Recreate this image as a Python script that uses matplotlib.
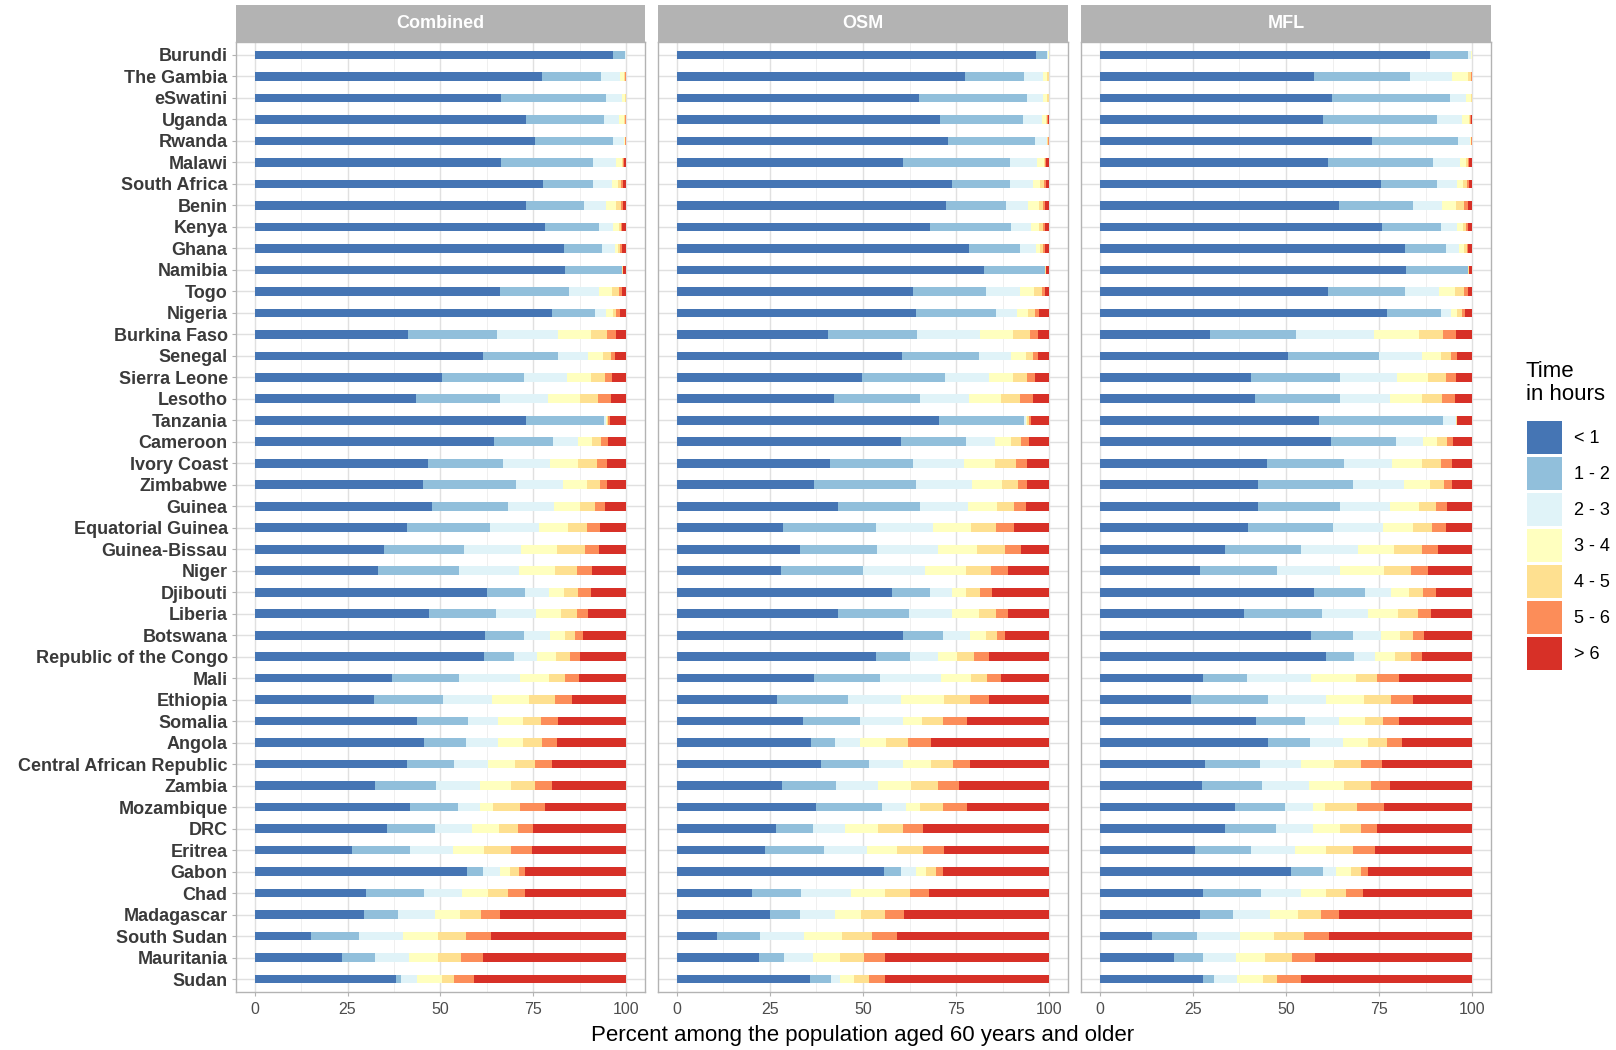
import numpy as np
import matplotlib
matplotlib.use("Agg")
import matplotlib.pyplot as plt
from matplotlib.patches import Patch, Rectangle

plt.rcParams['font.family'] = ['Liberation Sans', 'DejaVu Sans']

countries = [
    "Burundi", "The Gambia", "eSwatini", "Uganda", "Rwanda", "Malawi",
    "South Africa", "Benin", "Kenya", "Ghana", "Namibia", "Togo", "Nigeria",
    "Burkina Faso", "Senegal", "Sierra Leone", "Lesotho", "Tanzania",
    "Cameroon", "Ivory Coast", "Zimbabwe", "Guinea", "Equatorial Guinea",
    "Guinea-Bissau", "Niger", "Djibouti", "Liberia", "Botswana",
    "Republic of the Congo", "Mali", "Ethiopia", "Somalia", "Angola",
    "Central African Republic", "Zambia", "Mozambique", "DRC", "Eritrea",
    "Gabon", "Chad", "Madagascar", "South Sudan", "Mauritania", "Sudan",
]

bands = ["< 1", "1 - 2", "2 - 3", "3 - 4", "4 - 5", "5 - 6", "> 6"]
band_colors = ["#4575b4", "#91bfdb", "#e0f3f8", "#ffffbf",
               "#fee090", "#fc8d59", "#d73027"]

panel_titles = ["Combined", "OSM", "MFL"]
x_ticks = [0, 25, 50, 75, 100]

# Cumulative percent reached at the upper end of each band (< 1 ... 5 - 6);
# the "> 6" band fills the remainder up to 100.
combined_cum = [
    [96.3, 99.6, 99.8, 99.9, 99.95, 100.0],
    [77.3, 93.2, 98.3, 99.4, 99.7, 99.9],
    [66.4, 94.6, 98.7, 99.5, 99.8, 99.9],
    [72.9, 93.9, 98.0, 99.3, 99.7, 99.9],
    [75.4, 96.5, 99.4, 99.6, 99.7, 99.9],
    [66.4, 91.1, 97.2, 98.7, 99.1, 99.4],
    [77.6, 90.9, 96.1, 97.8, 98.6, 99.0],
    [72.9, 88.6, 94.6, 97.2, 98.5, 99.1],
    [78.1, 92.7, 96.5, 98.0, 98.6, 98.9],
    [83.3, 93.5, 96.8, 97.8, 98.3, 98.8],
    [83.5, 98.7, 98.8, 98.9, 99.0, 99.1],
    [66.0, 84.5, 92.5, 96.1, 98.0, 98.8],
    [80.1, 91.6, 94.6, 96.3, 97.3, 98.2],
    [41.2, 65.1, 81.7, 90.5, 94.8, 97.2],
    [61.3, 81.7, 89.8, 93.8, 95.8, 97.0],
    [50.5, 72.5, 84.1, 90.5, 94.2, 96.2],
    [43.5, 66.0, 79.0, 87.4, 92.4, 95.8],
    [72.9, 93.9, 94.5, 94.8, 95.1, 95.5],
    [64.4, 80.2, 87.1, 90.7, 93.3, 95.1],
    [46.7, 66.9, 79.4, 87.1, 92.1, 94.9],
    [45.4, 70.3, 83.0, 89.5, 93.0, 94.8],
    [47.6, 68.2, 80.4, 87.4, 91.6, 94.2],
    [41.1, 63.4, 76.4, 84.4, 89.5, 93.0],
    [34.7, 56.2, 71.6, 81.4, 88.9, 92.7],
    [33.3, 55.0, 71.1, 80.7, 86.7, 90.7],
    [62.4, 72.7, 79.3, 83.2, 86.9, 90.5],
    [47.0, 64.9, 75.7, 82.3, 86.7, 89.8],
    [62.0, 72.5, 79.4, 83.6, 86.2, 88.3],
    [61.7, 69.8, 75.9, 81.0, 84.9, 87.6],
    [37.0, 54.9, 71.3, 79.3, 83.4, 87.2],
    [32.0, 50.8, 63.9, 73.9, 80.9, 85.3],
    [43.8, 57.4, 65.5, 72.2, 77.1, 81.7],
    [45.5, 56.8, 65.4, 72.1, 77.2, 81.4],
    [41.1, 53.6, 62.9, 70.0, 75.5, 79.9],
    [32.5, 48.9, 60.6, 68.9, 75.3, 79.9],
    [41.7, 54.8, 60.6, 64.0, 71.5, 78.2],
    [35.6, 48.6, 58.5, 65.6, 70.8, 75.0],
    [26.3, 41.7, 53.3, 61.8, 69.0, 74.7],
    [57.1, 61.5, 66.0, 68.7, 71.0, 72.8],
    [30.0, 45.5, 55.9, 62.8, 68.1, 72.8],
    [29.4, 38.6, 48.4, 55.2, 61.0, 65.9],
    [15.3, 28.1, 39.8, 49.2, 56.8, 63.6],
    [23.4, 32.4, 41.4, 49.2, 55.5, 61.4],
    [37.9, 39.4, 43.7, 50.4, 53.5, 59.1],
]

osm_cum = [
    [96.3, 99.4, 99.7, 99.8, 99.9, 100.0],
    [77.4, 93.1, 98.4, 99.5, 99.8, 99.9],
    [65.0, 94.1, 98.4, 99.5, 99.8, 99.9],
    [70.6, 92.9, 97.9, 99.2, 99.4, 99.6],
    [72.7, 96.2, 99.3, 99.5, 99.7, 99.9],
    [60.8, 89.4, 96.7, 98.5, 98.9, 99.2],
    [74.0, 89.4, 95.5, 97.6, 98.6, 99.0],
    [72.4, 88.4, 94.4, 97.1, 98.4, 98.9],
    [68.0, 89.7, 95.1, 97.3, 98.2, 98.7],
    [78.5, 92.2, 96.4, 97.6, 98.4, 98.7],
    [82.5, 98.7, 98.8, 98.9, 99.0, 99.1],
    [63.3, 83.1, 92.0, 95.9, 98.0, 98.7],
    [64.3, 85.6, 91.4, 94.3, 96.1, 97.3],
    [40.5, 64.4, 81.5, 90.3, 94.8, 97.0],
    [60.4, 81.1, 89.7, 93.6, 95.6, 97.0],
    [49.6, 71.9, 83.7, 90.2, 93.9, 96.1],
    [42.1, 65.4, 78.5, 86.9, 92.2, 95.5],
    [70.5, 93.2, 93.8, 94.1, 94.5, 95.0],
    [60.1, 77.7, 85.5, 89.7, 92.5, 94.5],
    [41.1, 63.3, 77.0, 85.5, 91.0, 94.1],
    [36.9, 64.3, 79.3, 87.3, 91.6, 94.0],
    [43.3, 65.4, 78.3, 85.9, 90.6, 93.7],
    [28.5, 53.4, 68.8, 79.1, 85.7, 90.4],
    [33.0, 53.7, 70.0, 80.6, 88.1, 92.5],
    [27.9, 49.9, 66.6, 77.7, 84.3, 88.9],
    [57.9, 68.0, 73.9, 77.7, 81.3, 84.7],
    [43.3, 62.4, 74.0, 81.1, 85.6, 88.9],
    [60.7, 71.5, 78.7, 82.9, 85.9, 88.1],
    [53.4, 62.6, 70.0, 75.2, 79.7, 83.7],
    [36.9, 54.5, 70.8, 79.0, 83.2, 86.9],
    [26.9, 45.9, 60.3, 71.8, 78.7, 83.9],
    [34.0, 49.3, 60.7, 65.9, 71.5, 78.0],
    [36.0, 42.5, 49.3, 56.1, 62.1, 68.2],
    [38.8, 51.6, 60.7, 68.3, 74.1, 78.7],
    [28.2, 42.7, 53.9, 63.0, 70.1, 75.8],
    [37.3, 55.2, 61.6, 65.2, 71.4, 78.0],
    [26.6, 36.7, 45.3, 54.0, 60.8, 66.1],
    [23.8, 39.5, 51.2, 59.1, 66.0, 71.7],
    [55.6, 60.2, 64.2, 66.9, 69.5, 71.5],
    [20.1, 33.4, 46.8, 56.0, 62.5, 67.7],
    [25.0, 33.2, 42.4, 49.4, 55.8, 61.1],
    [10.8, 22.5, 34.2, 44.4, 52.3, 59.1],
    [22.2, 28.8, 36.5, 43.8, 50.2, 56.0],
    [35.7, 41.4, 43.7, 47.5, 51.6, 56.0],
]

mfl_cum = [
    [88.7, 98.9, 99.5, 99.8, 99.9, 100.0],
    [57.4, 83.3, 94.6, 98.7, 99.5, 99.8],
    [62.4, 93.9, 98.4, 99.5, 99.8, 99.9],
    [59.9, 90.5, 97.1, 99.0, 99.3, 99.5],
    [73.2, 96.2, 99.3, 99.5, 99.7, 99.9],
    [61.2, 89.4, 96.7, 98.4, 98.9, 99.2],
    [75.5, 90.4, 95.8, 97.5, 98.5, 99.0],
    [64.2, 84.1, 91.9, 95.6, 97.7, 98.8],
    [75.7, 91.5, 95.8, 97.5, 98.4, 98.8],
    [81.9, 93.0, 96.5, 97.8, 98.5, 98.9],
    [82.2, 98.7, 98.8, 98.9, 99.0, 99.1],
    [61.3, 81.9, 91.1, 95.4, 97.7, 98.8],
    [77.0, 91.7, 94.2, 95.8, 97.1, 98.0],
    [29.5, 52.8, 73.7, 85.8, 92.0, 95.5],
    [50.5, 74.9, 86.4, 91.5, 94.2, 95.9],
    [40.7, 64.6, 79.9, 88.2, 93.0, 95.5],
    [41.7, 64.4, 77.9, 86.6, 91.9, 95.3],
    [58.9, 92.2, 95.5, 95.6, 95.8, 96.0],
    [62.1, 79.6, 86.7, 90.5, 93.1, 94.8],
    [44.9, 65.5, 78.5, 86.4, 91.5, 94.6],
    [42.6, 67.9, 81.7, 88.7, 92.4, 94.5],
    [42.6, 64.5, 78.0, 85.8, 90.2, 93.1],
    [39.7, 62.6, 76.0, 84.1, 89.2, 93.0],
    [33.7, 54.0, 69.4, 78.9, 86.6, 90.8],
    [26.9, 47.7, 64.6, 76.2, 83.6, 88.2],
    [57.4, 71.1, 78.3, 82.9, 86.8, 90.3],
    [38.8, 59.6, 72.1, 80.1, 85.5, 89.0],
    [56.8, 68.1, 75.4, 80.7, 84.2, 87.0],
    [60.6, 68.2, 74.0, 79.3, 83.5, 86.6],
    [27.6, 39.5, 56.8, 68.7, 74.3, 80.4],
    [24.6, 45.1, 60.6, 70.9, 78.2, 84.1],
    [41.9, 55.1, 64.1, 71.2, 76.0, 80.4],
    [45.1, 56.5, 65.2, 71.9, 77.1, 81.2],
    [28.4, 42.9, 54.0, 63.0, 70.1, 75.7],
    [27.4, 43.5, 56.2, 65.6, 72.7, 77.8],
    [36.3, 49.8, 57.3, 60.5, 69.1, 76.3],
    [33.7, 47.2, 57.2, 64.6, 70.0, 74.3],
    [25.6, 40.6, 52.4, 60.8, 68.1, 74.0],
    [51.4, 59.8, 63.3, 67.5, 70.0, 72.1],
    [27.8, 43.2, 53.9, 60.7, 66.1, 70.7],
    [26.8, 35.9, 45.7, 53.3, 59.3, 64.3],
    [14.1, 26.2, 37.6, 46.7, 54.9, 61.6],
    [19.9, 27.8, 36.6, 44.4, 51.6, 57.9],
    [27.8, 30.6, 36.9, 43.9, 47.6, 53.9],
]

panel_data = [combined_cum, osm_cum, mfl_cum]

# ---- layout (pixels of the 1616 x 1050 canvas) ----
W, H = 1616, 1050
fig = plt.figure(figsize=(W / 100, H / 100), dpi=100)
fig.patch.set_facecolor("white")

panel_px = [(236, 645), (658, 1068), (1081, 1491)]
top_px, bottom_px = 42, 992
strip_px = 37

frame_grey = "#B3B3B3"
grid_major = "#E0E0E0"
grid_minor = "#EDEDED"

n = len(countries)
rows = np.arange(n)

for p, (title, cum) in enumerate(zip(panel_titles, panel_data)):
    l, r = panel_px[p]
    ax = fig.add_axes([l / W, 1 - bottom_px / H, (r - l) / W,
                       (bottom_px - top_px) / H])
    cum = np.asarray(cum, dtype=float)
    edges = np.hstack([np.zeros((n, 1)), cum, np.full((n, 1), 100.0)])
    for k, color in enumerate(band_colors):
        ax.barh(rows, edges[:, k + 1] - edges[:, k], left=edges[:, k],
                height=0.4, color=color, linewidth=0, zorder=2)

    ax.set_xlim(-5, 105)
    ax.set_ylim(n - 1 + 0.6, -0.6)
    ax.set_xticks(x_ticks)
    ax.set_xticklabels([str(t) for t in x_ticks])
    ax.set_xticks([12.5, 37.5, 62.5, 87.5], minor=True)
    ax.set_yticks(rows)
    ax.set_axisbelow(True)
    ax.grid(which="major", color=grid_major, linewidth=1.0, zorder=0)
    ax.grid(which="minor", axis="x", color=grid_minor, linewidth=0.6, zorder=0)

    for s in ax.spines.values():
        s.set_color(frame_grey)
        s.set_linewidth(1.0)

    ax.tick_params(axis="x", which="major", length=3, width=0.8,
                   color=frame_grey, labelsize=11.5, labelcolor="#4D4D4D",
                   pad=4)
    ax.tick_params(axis="x", which="minor", length=0)
    if p == 0:
        ax.set_yticklabels(countries, fontweight="bold")
        ax.tick_params(axis="y", length=3, width=0.8, color=frame_grey,
                       labelsize=13, labelcolor="#3A3A3A", pad=3)
    else:
        ax.tick_params(axis="y", length=0, labelleft=False)

    # facet strip
    strip_h = strip_px / (bottom_px - top_px)
    ax.add_patch(Rectangle((0, 1), 1, strip_h, transform=ax.transAxes,
                           facecolor=frame_grey, edgecolor="none",
                           clip_on=False, zorder=3))
    ax.text(0.5, 1 + strip_h / 2, title, transform=ax.transAxes,
            ha="center", va="center", color="white", fontsize=13,
            fontweight="bold", zorder=4)

fig.text(863 / W, 1 - 1036 / H,
         "Percent among the population aged 60 years and older",
         ha="center", va="center", fontsize=16, color="black")

# legend: title as its own text, keys below it
fig.text(1526 / W, 1 - 361 / H, "Time\nin hours", ha="left", va="top",
         fontsize=16, linespacing=1.1, color="black")

handles = [Patch(facecolor=c, edgecolor="none") for c in band_colors]
leg = fig.legend(handles, bands, loc="upper left",
                 bbox_to_anchor=(1527 / W, 1 - 421 / H),
                 frameon=False, fontsize=13,
                 handlelength=1.95, handleheight=2.43, labelspacing=0.17,
                 handletextpad=0.65, borderpad=0, borderaxespad=0)

fig.savefig("out.png", dpi=100)
